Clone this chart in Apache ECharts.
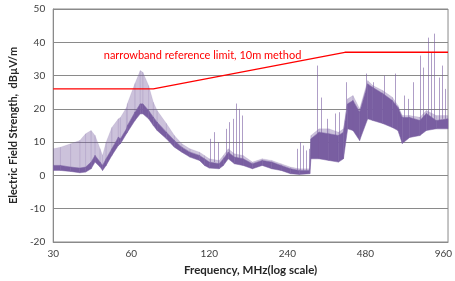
<!DOCTYPE html>
<html>
<head>
<meta charset="utf-8">
<script src="https://cdn.jsdelivr.net/npm/echarts@6/dist/echarts.min.js"></script>
<style>
  html, body { margin: 0; padding: 0; background: #fff; }
  #chart { width: 455px; height: 281px; }
</style>
</head>
<body>
<div id="chart"></div>
<script>
// spectrum envelope (MHz / dBuV/m)
const freqs     = [30, 32, 35, 38, 40, 42, 43.5, 45.5, 46.5, 48, 50.5, 53.5, 54.5, 57.5, 58, 62, 65, 66.5, 70, 73, 75.5, 82, 88, 94, 101, 110, 115, 120, 131, 136, 142, 150, 162, 176, 192, 209, 227, 247, 267, 293, 296, 318, 347, 378, 395, 410, 430, 456, 490, 513, 560, 610, 641, 666, 711, 779, 825, 900, 1000];
const darkLow   = [1.5, 1.5, 1.2, 0.8, 1, 2, 4, 2.5, 1.5, 3, 6, 9, 9.5, 12.5, 13, 16.5, 18.5, 18.5, 17, 15, 13.5, 11, 8.5, 7, 5.5, 4.5, 3, 2.2, 2, 3, 5, 3.5, 3, 2, 3, 2, 1.5, 0.5, 0.3, 0.5, 5, 5, 4.5, 4, 5, 14, 13.5, 10.5, 17, 16.5, 15.6, 14.4, 13.5, 9.6, 11.4, 12, 13.5, 14, 14];
const darkHigh  = [3, 3, 2.5, 2.2, 2.5, 4, 6, 4, 3, 5, 8, 11.5, 11, 14, 15, 19, 21.5, 21.5, 19.5, 17.5, 16, 13, 10.5, 8.5, 7, 6, 5, 4, 3.5, 5, 7, 5.5, 5, 3.5, 4.5, 4, 3, 2, 1.5, 1.5, 11, 13, 12.5, 12, 13, 21.5, 22.5, 19, 27.5, 26.4, 24.6, 22.5, 20.4, 17.4, 17.4, 16.5, 18.6, 16.5, 17];
const lightHigh = [8, 8.5, 9.5, 10.5, 12.5, 13.5, 12, 8, 6, 10, 14.4, 17, 17.4, 20.4, 21.6, 27.6, 31.5, 31, 27, 22, 19.5, 15.6, 12, 9.5, 8, 7, 6, 5, 4.5, 6, 8, 6.5, 6, 4, 5, 4.5, 3.5, 2.5, 2, 2, 12, 14, 14, 13, 14, 23, 24, 20, 28.5, 27, 25.5, 23.5, 21, 18, 18, 17.5, 19.5, 18, 18];

// isolated narrowband spikes
const spikeFreqs = [121, 125, 129.5, 138.7, 143.5, 148.4, 152.3, 156, 160, 262, 269, 276, 283, 291, 311, 325, 342, 366, 381, 405, 484, 514, 564, 625, 674, 698, 734, 780, 800, 834, 863, 886, 924, 948, 972];
const spikeBase  = [4, 4, 3.5, 5, 6, 5, 5, 5, 5, 1.5, 1.5, 1.5, 1.5, 1.5, 12, 12, 12, 12, 12, 20, 25, 25, 23, 20, 17, 17, 17, 16.5, 17, 18, 17, 16.5, 16.5, 17, 17];
const spikeTop   = [11, 13, 10, 14, 16, 17, 21.6, 20, 18, 8, 10, 9, 7.5, 8, 33, 23.4, 17, 18.6, 19, 28, 30.6, 28, 30, 30.6, 24, 23, 28, 36, 32.4, 41.4, 37, 42.6, 29.4, 33, 26];

// reference limit
const limitFreqs  = [30, 73, 400, 1000];
const limitValues = [26, 26, 37, 37];

const xTickLabels = ['30', '60', '120', '240', '480', '960'];
const fMin = 30, fMax = 1000;

// x axis = octaves above 30 MHz (log2 scale)
const oct = f => Math.log2(f / fMin);
const FONT = 'Lato';
const DARK = '#795ea1';

// one row per segment: [x0, lo0, hi0, x1, lo1, hi1]
function bandRows(lo, hi) {
  const rows = [];
  for (let i = 1; i < freqs.length; i++) {
    rows.push([oct(freqs[i - 1]), lo[i - 1], hi[i - 1], oct(freqs[i]), lo[i], hi[i]]);
  }
  return rows;
}

function bandSeries(rows, fill, stroke) {
  return {
    type: 'custom',
    silent: true,
    clip: true,
    encode: { x: [0, 3], y: [1, 2, 4, 5] },
    data: rows,
    renderItem: function (params, api) {
      const a = api.coord([api.value(0), api.value(1)]);
      const b = api.coord([api.value(3), api.value(4)]);
      const c = api.coord([api.value(3), api.value(5)]);
      const d = api.coord([api.value(0), api.value(2)]);
      return {
        type: 'polygon',
        shape: { points: [a, b, c, d] },
        style: { fill: fill, stroke: stroke, lineWidth: 0.5 }
      };
    }
  };
}

const chart = echarts.init(document.getElementById('chart'), null, { renderer: 'canvas' });

const option = {
  animation: false,
  grid: {
    left: 42, right: 1, top: 9, bottom: 39,
    show: true, borderColor: '#8a8a8a', borderWidth: 1
  },
  xAxis: {
    type: 'value',
    min: 0,
    max: oct(fMax),
    interval: 1,
    name: 'Frequency, MHz(log scale)',
    nameLocation: 'middle',
    nameGap: 20,
    nameTextStyle: { fontFamily: FONT, fontWeight: 'bold', fontSize: 11.5, color: '#262626' },
    axisLine: { onZero: false, lineStyle: { color: '#8a8a8a' } },
    axisTick: { show: false },
    splitLine: { show: false },
    axisLabel: {
      margin: 7,
      fontFamily: FONT, fontSize: 10, color: '#404040',
      formatter: v => Math.abs(v - Math.round(v)) < 1e-6 ? (xTickLabels[Math.round(v)] || '') : ''
    }
  },
  yAxis: {
    type: 'value',
    min: -20, max: 50, interval: 10,
    name: 'Electric Field Strength,  dBµV/m',
    nameLocation: 'middle',
    nameGap: 24,
    nameTextStyle: { fontFamily: FONT, fontWeight: 'bold', fontSize: 11, color: '#262626' },
    axisLine: { show: true, lineStyle: { color: '#8a8a8a' } },
    axisTick: { show: false },
    splitLine: { lineStyle: { color: '#8a8a8a', width: 1 } },
    axisLabel: { margin: 8, fontFamily: FONT, fontSize: 10, color: '#404040' }
  },
  series: [
    bandSeries(bandRows(darkHigh, lightHigh), 'rgba(121,94,161,0.38)', 'rgba(121,94,161,0.25)'),
    bandSeries(bandRows(darkLow, darkHigh), DARK, DARK),
    {
      type: 'custom',
      silent: true,
      clip: true,
      encode: { x: 0, y: [1, 2] },
      data: spikeFreqs.map((f, i) => [oct(f), spikeBase[i], spikeTop[i]]),
      renderItem: function (params, api) {
        const p0 = api.coord([api.value(0), api.value(1)]);
        const p1 = api.coord([api.value(0), api.value(2)]);
        return {
          type: 'line',
          shape: { x1: Math.round(p0[0]) + 0.5, y1: p0[1], x2: Math.round(p1[0]) + 0.5, y2: p1[1] },
          style: { stroke: 'rgba(121,94,161,0.6)', lineWidth: 1 }
        };
      }
    },
    {
      type: 'line', symbol: 'none', silent: true,
      lineStyle: { color: '#ff0000', width: 1.3 },
      data: limitFreqs.map((f, i) => [oct(f), limitValues[i]]),
      markPoint: {
        symbol: 'circle', symbolSize: 0, silent: true,
        label: {
          show: true, position: 'inside',
          formatter: 'narrowband reference limit, 10m method',
          fontFamily: FONT, fontSize: 11, color: '#ff0000'
        },
        data: [{ coord: [oct(113), 36] }]
      }
    }
  ]
};

chart.setOption(option);
</script>
</body>
</html>
